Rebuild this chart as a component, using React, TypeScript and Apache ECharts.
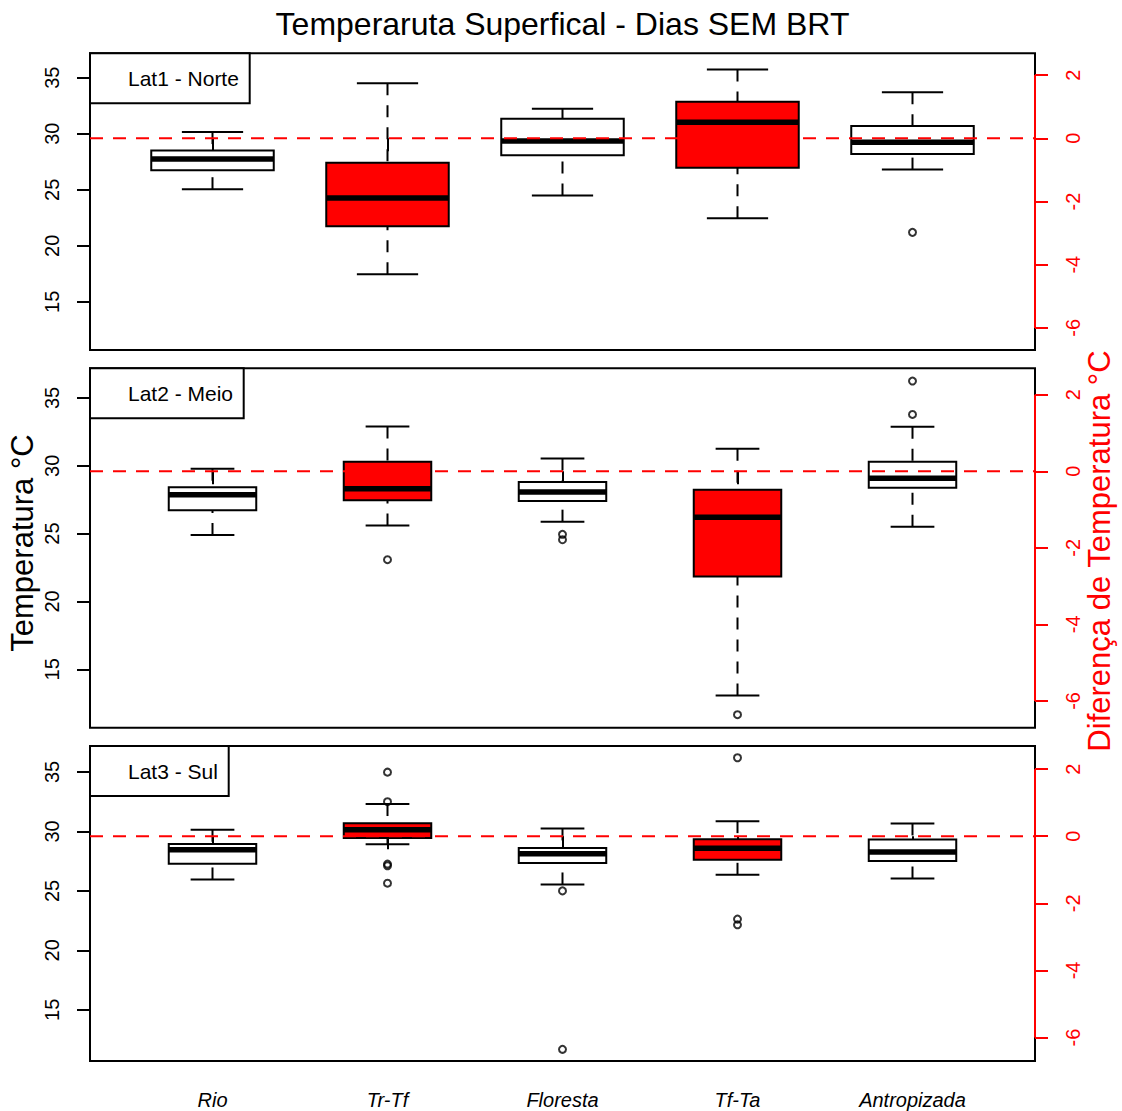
import React, { useEffect, useRef } from 'react';
import * as echarts from 'echarts';

// ---------- data ----------
const categories = ['Rio', 'Tr-Tf', 'Floresta', 'Tf-Ta', 'Antropizada'];
// true -> difference (right axis, red box)
const isDifference = [false, true, false, true, false];
const panelLabels = ['Lat1 - Norte', 'Lat2 - Meio', 'Lat3 - Sul'];

// [lower whisker, Q1, median, Q3, upper whisker]
const lat1Stats = [
  [25.05, 26.75, 27.75, 28.5, 30.15],
  [-4.3, -2.78, -1.89, -0.77, 1.74],
  [24.5, 28.07, 29.35, 31.34, 32.23],
  [-2.53, -0.93, 0.51, 1.16, 2.18],
  [26.8, 28.2, 29.25, 30.7, 33.7],
];
const lat1Outliers = [[], [], [], [], [21.2]];

const lat2Stats = [
  [24.9, 26.72, 27.86, 28.41, 29.78],
  [-1.42, -0.76, -0.46, 0.25, 1.17],
  [25.88, 27.4, 28.06, 28.8, 30.54],
  [-5.86, -2.75, -1.2, -0.48, 0.59],
  [25.51, 28.38, 29.07, 30.29, 32.87],
];
const lat2Outliers = [[], [-2.31], [24.95, 24.55], [-6.36], [36.24, 33.78]];

const lat3Stats = [
  [25.96, 27.28, 28.46, 28.94, 30.14],
  [-0.24, -0.05, 0.19, 0.39, 0.96],
  [25.54, 27.34, 28.12, 28.6, 30.25],
  [-1.15, -0.7, -0.36, -0.09, 0.45],
  [26.04, 27.51, 28.27, 29.33, 30.67],
];
const lat3Outliers = [[], [1.91, 1.03, -0.83, -0.88, -1.4], [25.0, 11.68], [2.34, -2.47, -2.64], []];

const leftTicks = [15, 20, 25, 30, 35];
const rightTicks = [-6, -4, -2, 0, 2];
const xTicks = [1, 2, 3, 4, 5];

// ---------- layout ----------
const X_MIN = 0.3;
const X_MAX = 5.7;
const LEFT_MIN = 10.7;
const LEFT_MAX = 37.18;
const RIGHT_MIN = -6.7;
const RIGHT_MAX = 2.69;
const PLOT_LEFT = 90;
const PLOT_WIDTH = 945;
const panelTops = [53.3, 368.3, 746];
const panelHeights = [296.7, 359.4, 315];
const boxHalfWidths = [0.35, 0.25, 0.25];
const labelBoxWidths = [159.7, 153.7, 138.7];
const labelBoxHeight = 50;
const RED = '#ff0000';
const FONT = '"Liberation Sans", Arial, Helvetica, sans-serif';

const panelStats = [lat1Stats, lat2Stats, lat3Stats];
const panelOutliers = [lat1Outliers, lat2Outliers, lat3Outliers];

function makeBoxRenderer(halfW: number, fill: string) {
  return (params: any, api: any) => {
    const x = api.value(0);
    const pLow = api.coord([x, api.value(1)]);
    const pQ1 = api.coord([x, api.value(2)]);
    const pMed = api.coord([x, api.value(3)]);
    const pQ3 = api.coord([x, api.value(4)]);
    const pHigh = api.coord([x, api.value(5)]);
    const hw = api.size([halfW, 0])[0];
    const cw = hw / 2;
    const cx = pMed[0];
    const dashStyle = { stroke: '#000', lineWidth: 2, lineDash: [12, 10], fill: null };
    const solid = { stroke: '#000', lineWidth: 2, fill: null };
    return {
      type: 'group',
      children: [
        { type: 'line', shape: { x1: cx, y1: pHigh[1], x2: cx, y2: pQ3[1] }, style: dashStyle },
        { type: 'line', shape: { x1: cx, y1: pLow[1], x2: cx, y2: pQ1[1] }, style: dashStyle },
        { type: 'line', shape: { x1: cx - cw, y1: pHigh[1], x2: cx + cw, y2: pHigh[1] }, style: solid },
        { type: 'line', shape: { x1: cx - cw, y1: pLow[1], x2: cx + cw, y2: pLow[1] }, style: solid },
        {
          type: 'rect',
          shape: { x: cx - hw, y: pQ3[1], width: 2 * hw, height: pQ1[1] - pQ3[1] },
          style: { fill, stroke: '#000', lineWidth: 2 },
        },
        { type: 'line', shape: { x1: cx - hw, y1: pMed[1], x2: cx + hw, y2: pMed[1] }, style: { stroke: '#000', lineWidth: 5.5 } },
      ],
    };
  };
}

function buildOption() {
  const grid: any[] = [];
  const xAxis: any[] = [];
  const yAxis: any[] = [];
  const series: any[] = [];
  const graphic: any[] = [];

  panelStats.forEach((stats, i) => {
    grid.push({
      left: PLOT_LEFT,
      top: panelTops[i],
      width: PLOT_WIDTH,
      height: panelHeights[i],
      show: true,
      borderColor: '#000',
      borderWidth: 2,
      backgroundColor: 'transparent',
      containLabel: false,
      outerBoundsMode: 'none',
    });
    xAxis.push({
      type: 'value',
      gridIndex: i,
      min: X_MIN,
      max: X_MAX,
      axisLine: { show: false },
      splitLine: { show: false },
      axisTick: { show: true, customValues: xTicks, length: 13, lineStyle: { color: '#000', width: 2 } },
      axisLabel: {
        show: i === 2,
        customValues: xTicks,
        formatter: (v: number) => categories[Math.round(v) - 1] || '',
        fontStyle: 'italic',
        fontSize: 20,
        color: '#000',
        fontFamily: FONT,
        margin: 29,
      },
    });
    yAxis.push({
      type: 'value',
      gridIndex: i,
      position: 'left',
      min: LEFT_MIN,
      max: LEFT_MAX,
      axisLine: { show: false },
      splitLine: { show: false },
      axisTick: { show: true, customValues: leftTicks, length: 13, lineStyle: { color: '#000', width: 2 } },
      axisLabel: { customValues: leftTicks, rotate: 90, fontSize: 20, color: '#000', fontFamily: FONT, margin: 28 },
    });
    yAxis.push({
      type: 'value',
      gridIndex: i,
      position: 'right',
      min: RIGHT_MIN,
      max: RIGHT_MAX,
      axisLine: { show: false },
      splitLine: { show: false },
      axisTick: { show: true, customValues: rightTicks, length: 13, lineStyle: { color: RED, width: 2 } },
      axisLabel: { customValues: rightTicks, rotate: 90, fontSize: 20, color: RED, fontFamily: FONT, margin: 28 },
    });

    const leftIdx = 2 * i;
    const rightIdx = 2 * i + 1;
    const whiteData: any[] = [];
    const redData: any[] = [];
    const leftOut: any[] = [];
    const rightOut: any[] = [];
    stats.forEach((s, c) => {
      const item = [c + 1, ...s];
      if (isDifference[c]) redData.push(item);
      else whiteData.push(item);
      panelOutliers[i][c].forEach((v) => {
        if (isDifference[c]) rightOut.push([c + 1, v]);
        else leftOut.push([c + 1, v]);
      });
    });

    series.push({
      type: 'custom',
      xAxisIndex: i,
      yAxisIndex: leftIdx,
      renderItem: makeBoxRenderer(boxHalfWidths[i], '#fff'),
      encode: { x: 0, y: [1, 2, 3, 4, 5] },
      data: whiteData,
      z: 2,
      silent: true,
    });
    series.push({
      type: 'custom',
      xAxisIndex: i,
      yAxisIndex: rightIdx,
      renderItem: makeBoxRenderer(boxHalfWidths[i], RED),
      encode: { x: 0, y: [1, 2, 3, 4, 5] },
      data: redData,
      z: 2,
      silent: true,
    });
    const scatterStyle = {
      type: 'scatter',
      xAxisIndex: i,
      symbol: 'circle',
      symbolSize: 7,
      itemStyle: { color: 'rgba(0,0,0,0)', borderColor: '#000', borderWidth: 2 },
      z: 3,
      silent: true,
    };
    series.push({ ...scatterStyle, yAxisIndex: leftIdx, data: leftOut });
    series.push({ ...scatterStyle, yAxisIndex: rightIdx, data: rightOut });
    // reference line at zero difference
    series.push({
      type: 'line',
      xAxisIndex: i,
      yAxisIndex: rightIdx,
      data: [
        [X_MIN, 0],
        [X_MAX, 0],
      ],
      symbol: 'none',
      lineStyle: { color: RED, width: 2, type: [13, 10] },
      z: 10,
      silent: true,
    });
    // red right axis segment
    series.push({
      type: 'line',
      xAxisIndex: i,
      yAxisIndex: rightIdx,
      data: [
        [X_MAX, rightTicks[0]],
        [X_MAX, rightTicks[rightTicks.length - 1]],
      ],
      symbol: 'none',
      clip: false,
      lineStyle: { color: RED, width: 2 },
      z: 11,
      silent: true,
    });

    // panel label box
    graphic.push({
      type: 'rect',
      shape: { x: PLOT_LEFT, y: panelTops[i], width: labelBoxWidths[i], height: labelBoxHeight },
      style: { fill: '#fff', stroke: '#000', lineWidth: 2 },
      z: 20,
    });
    graphic.push({
      type: 'text',
      x: 128,
      y: panelTops[i] + 25.5,
      style: { text: panelLabels[i], font: `21px ${FONT}`, fill: '#000', textAlign: 'left', textVerticalAlign: 'middle' },
      z: 21,
    });
  });

  graphic.push({
    type: 'text',
    x: 562.5,
    y: 24,
    style: {
      text: 'Temperaruta Superfical - Dias SEM BRT',
      font: `32px ${FONT}`,
      fill: '#000',
      textAlign: 'center',
      textVerticalAlign: 'middle',
    },
  });
  graphic.push({
    type: 'text',
    x: 22.5,
    y: 543,
    rotation: Math.PI / 2,
    style: { text: 'Temperatura °C', font: `31px ${FONT}`, fill: '#000', textAlign: 'center', textVerticalAlign: 'middle' },
  });
  graphic.push({
    type: 'text',
    x: 1099,
    y: 551,
    rotation: Math.PI / 2,
    style: {
      text: 'Diferença de Temperatura °C',
      font: `31px ${FONT}`,
      fill: RED,
      textAlign: 'center',
      textVerticalAlign: 'middle',
    },
  });

  return {
    animation: false,
    backgroundColor: '#fff',
    textStyle: { fontFamily: FONT },
    grid,
    xAxis,
    yAxis,
    series,
    graphic,
  };
}

export default function App() {
  const ref = useRef<HTMLDivElement>(null);
  useEffect(() => {
    if (!ref.current) return;
    const chart = echarts.init(ref.current, null, { renderer: 'svg' });
    chart.setOption(buildOption() as any);
    return () => chart.dispose();
  }, []);
  return (
    <div
      ref={ref}
      style={{ position: 'absolute', left: 0, top: 0, width: 1122, height: 1111, background: '#fff' }}
    />
  );
}
